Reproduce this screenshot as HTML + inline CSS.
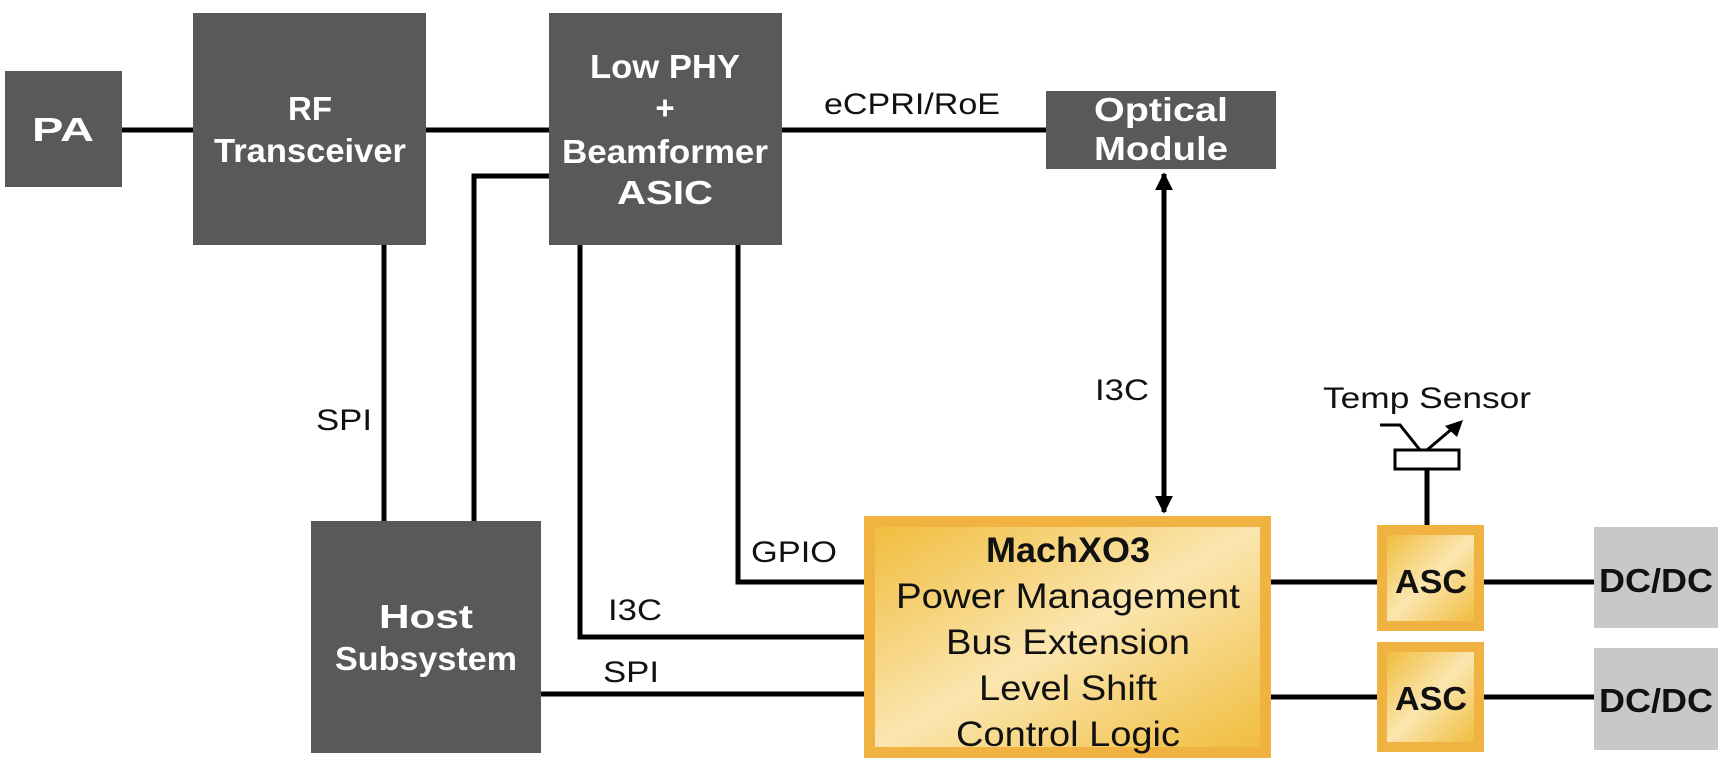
<!DOCTYPE html>
<html><head><meta charset="utf-8"><style>
html,body{margin:0;padding:0;background:#fff;}
svg{display:block;}
text{font-family:"Liberation Sans",Arial,sans-serif;}
.b{fill:#fff;font-weight:bold;font-size:33px;text-anchor:middle;}
.l{fill:#111;font-size:30px;}
</style></head><body>
<svg width="1722" height="774" viewBox="0 0 1722 774" xmlns="http://www.w3.org/2000/svg">
<defs>
<linearGradient id="g" x1="0" y1="0" x2="1" y2="1">
<stop offset="0" stop-color="#f0bd3e"/><stop offset="0.5" stop-color="#fbe6b0"/><stop offset="1" stop-color="#f0bd3e"/>
</linearGradient>
<marker id="ar" viewBox="0 0 10 10" refX="9" refY="5" markerWidth="3.6" markerHeight="3.6" orient="auto-start-reverse"><path d="M0,0L10,5L0,10z" fill="#000"/></marker>
</defs>
<g stroke="#000" stroke-width="5" fill="none">
<line x1="121" y1="130" x2="193" y2="130"/>
<line x1="426" y1="130" x2="549" y2="130"/>
<line x1="782" y1="130" x2="1046" y2="130"/>
<line x1="384" y1="244" x2="384" y2="521"/>
<polyline points="474,521 474,176 549,176"/>
<polyline points="580,244 580,637 864,637"/>
<polyline points="738,244 738,582 864,582"/>
<line x1="541" y1="694" x2="864" y2="694"/>
<line x1="1271" y1="582" x2="1377" y2="582"/>
<line x1="1484" y1="582" x2="1594" y2="582"/>
<line x1="1271" y1="697" x2="1377" y2="697"/>
<line x1="1484" y1="697" x2="1594" y2="697"/>
<line x1="1427" y1="470" x2="1427" y2="525"/>
<line x1="1164" y1="174" x2="1164" y2="512" marker-start="url(#ar)" marker-end="url(#ar)"/>
</g>
<g stroke="#000" stroke-width="3" fill="none">
<rect x="1395" y="450" width="64" height="19" fill="#fff"/>
<polyline points="1380,425 1400,425 1420,450"/>
<line x1="1427" y1="450" x2="1453" y2="428"/>
</g>
<path d="M1463,420 L1445,426 L1457,437 Z" fill="#000"/>
<g fill="#595959">
<rect x="5" y="71" width="117" height="116"/>
<rect x="193" y="13" width="233" height="232"/>
<rect x="549" y="13" width="233" height="232"/>
<rect x="1046" y="91" width="230" height="78"/>
<rect x="311" y="521" width="230" height="232"/>
</g>
<text class="b" x="63" y="141" textLength="62" lengthAdjust="spacingAndGlyphs">PA</text>
<text class="b" x="310" y="120">RF</text>
<text class="b" x="310" y="162" textLength="192" lengthAdjust="spacingAndGlyphs">Transceiver</text>
<text class="b" x="665" y="78" textLength="150" lengthAdjust="spacingAndGlyphs">Low PHY</text>
<text class="b" x="665" y="119">+</text>
<text class="b" x="665" y="163" textLength="206" lengthAdjust="spacingAndGlyphs">Beamformer</text>
<text class="b" x="665" y="204" textLength="96" lengthAdjust="spacingAndGlyphs">ASIC</text>
<text class="b" x="1161" y="121" textLength="134" lengthAdjust="spacingAndGlyphs">Optical</text>
<text class="b" x="1161" y="160" textLength="134" lengthAdjust="spacingAndGlyphs">Module</text>
<text class="b" x="426" y="628" textLength="94" lengthAdjust="spacingAndGlyphs">Host</text>
<text class="b" x="426" y="670" textLength="182" lengthAdjust="spacingAndGlyphs">Subsystem</text>
<rect x="864" y="516" width="407" height="242" fill="#f0b240"/>
<rect x="875" y="527" width="385" height="220" fill="url(#g)"/>
<rect x="1377" y="525" width="107" height="106" fill="#f0b240"/>
<rect x="1387" y="535" width="87" height="86" fill="url(#g)"/>
<rect x="1377" y="642" width="107" height="110" fill="#f0b240"/>
<rect x="1387" y="652" width="87" height="90" fill="url(#g)"/>
<rect x="1594" y="527" width="124" height="101" fill="#c8c8c8"/>
<rect x="1594" y="648" width="124" height="102" fill="#c8c8c8"/>
<g fill="#111" text-anchor="middle" font-size="35">
<text x="1068" y="562" font-weight="bold" textLength="164" lengthAdjust="spacingAndGlyphs">MachXO3</text>
<text x="1068" y="608" textLength="344" lengthAdjust="spacingAndGlyphs">Power Management</text>
<text x="1068" y="654" textLength="244" lengthAdjust="spacingAndGlyphs">Bus Extension</text>
<text x="1068" y="700" textLength="178" lengthAdjust="spacingAndGlyphs">Level Shift</text>
<text x="1068" y="746" textLength="224" lengthAdjust="spacingAndGlyphs">Control Logic</text>
<text x="1431" y="593" font-weight="bold" font-size="33" textLength="72" lengthAdjust="spacingAndGlyphs">ASC</text>
<text x="1431" y="710" font-weight="bold" font-size="33" textLength="72" lengthAdjust="spacingAndGlyphs">ASC</text>
<text x="1656" y="592" font-weight="bold" font-size="33" textLength="114" lengthAdjust="spacingAndGlyphs">DC/DC</text>
<text x="1656" y="712" font-weight="bold" font-size="33" textLength="114" lengthAdjust="spacingAndGlyphs">DC/DC</text>
</g>
<text class="l" x="824" y="114" textLength="176" lengthAdjust="spacingAndGlyphs">eCPRI/RoE</text>
<text class="l" x="1095" y="400" textLength="54" lengthAdjust="spacingAndGlyphs">I3C</text>
<text class="l" x="316" y="430" textLength="56" lengthAdjust="spacingAndGlyphs">SPI</text>
<text class="l" x="751" y="562" textLength="86" lengthAdjust="spacingAndGlyphs">GPIO</text>
<text class="l" x="608" y="620" textLength="54" lengthAdjust="spacingAndGlyphs">I3C</text>
<text class="l" x="603" y="682" textLength="56" lengthAdjust="spacingAndGlyphs">SPI</text>
<text class="l" x="1427" y="408" text-anchor="middle" textLength="208" lengthAdjust="spacingAndGlyphs">Temp Sensor</text>
</svg>
</body></html>
